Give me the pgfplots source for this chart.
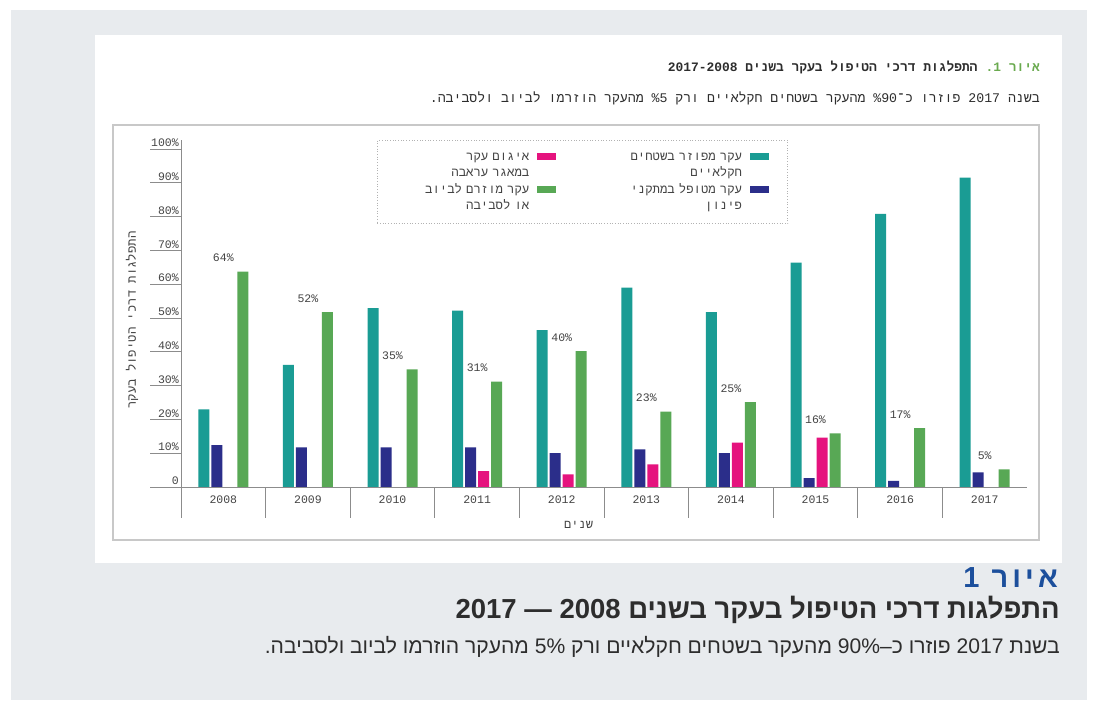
\documentclass[border=0pt]{standalone}
\usepackage{pgfplots}
\usepackage{pgfplotstable}
\pgfplotsset{compat=1.18}
\usepackage{fontspec}
\setmainfont{Liberation Sans}
\newfontfamily\hebmono[Script=Hebrew]{Liberation Mono}
\newfontfamily\hebsans[Script=Hebrew]{Liberation Sans}
\newfontfamily\hebsansls[Script=Hebrew,LetterSpace=14]{Liberation Sans}
\TeXXeTstate=1
\newcommand{\LL}[1]{\beginL#1\endL}

\definecolor{bgpanel}{HTML}{E8EBEE}
\definecolor{framegray}{HTML}{C8C8C8}
\definecolor{axisgray}{HTML}{8C8C8C}
\definecolor{cteal}{HTML}{1A9C94}
\definecolor{cnavy}{HTML}{2B2E8A}
\definecolor{cpink}{HTML}{E5137E}
\definecolor{cgreen}{HTML}{58A855}
\definecolor{ctext}{HTML}{444444}
\definecolor{ctitlegreen}{HTML}{6AAA4F}
\definecolor{cblue}{HTML}{1C4F9C}
\definecolor{ccap}{HTML}{2D2D2D}

% year teal navy pink green label
\pgfplotstableread{
x teal navy pink green lab
0 23.0 12.4 nan  63.7 64
1 36.1 11.7 nan  51.7 52
2 52.9 11.7 nan  34.8 35
3 52.2 11.7 4.7  31.2 31
4 46.4 10.0 3.75 40.2 40
5 59.0 11.1 6.7  22.3 23
6 51.7 10.0 13.1 25.1 25
7 66.4 2.6  14.6 15.9 16
8 80.8 1.8  nan  17.4 17
9 91.5 4.3  nan  5.2  5
}\datatable

\pgfplotsset{swatch/.style={legend image code/.code={\fill[#1] (0pt,-2.5pt) rectangle (18pt,3.5pt);}}}

\begin{document}
\begin{tikzpicture}
\useasboundingbox (0,0) rectangle (1094pt,706pt);
\fill[white] (0,0) rectangle (1094pt,706pt);
\fill[bgpanel] (11pt,6pt) rectangle (1087pt,696pt);
\fill[white] (95pt,143pt) rectangle (1062pt,671pt);
\draw[framegray, line width=1.2pt] (113pt,166pt) rectangle (1039pt,581pt);

% chart title inside the white panel
\node[anchor=east, inner sep=0pt, text=ctitlegreen, font=\hebmono\bfseries\fontsize{12.9}{15}\selectfont] (t1) at (1040pt,639pt) {\beginR איור \LL{1}.\endR};
\node[anchor=east, inner sep=0pt, text=ccap, font=\hebmono\bfseries\fontsize{12.9}{15}\selectfont] at ([xshift=-7.7pt]t1.west) {\beginR התפלגות דרכי הטיפול בעקר בשנים \LL{2017-2008}\endR};
\node[anchor=east, inner sep=0pt, text=ccap, font=\hebmono\fontsize{13.2}{15}\selectfont] at (1040pt,608pt) {\beginR בשנה \LL{2017} פוזרו כ־\LL{90}\% מהעקר בשטחים חקלאיים ורק \LL{5}\% מהעקר הוזרמו לביוב ולסביבה.\endR};

\begin{axis}[
  at={(181pt,219pt)}, anchor=south west, scale only axis,
  width=846pt, height=347pt,
  xmin=-0.5, xmax=9.5, ymin=0, ymax=102.66,
  axis lines*=left,
  axis line style={draw=axisgray, line width=0.8pt},
  tick align=outside, major tick length=31pt, minor tick length=31pt,
  tick style={draw=axisgray, line width=0.8pt},
  xtick={0,...,9},
  xticklabels={2008,2009,2010,2011,2012,2013,2014,2015,2016,2017},
  major x tick style={draw=none},
  minor xtick={-0.5,0.5,...,8.5},
  ytick={0,10,...,100},
  yticklabels={0,10\%,20\%,30\%,40\%,50\%,60\%,70\%,80\%,90\%,100\%},
  tick label style={font=\hebmono\fontsize{11.5}{13}\selectfont, text=ctext},
  yticklabel style={anchor=south east, inner sep=0pt, xshift=29pt, yshift=2pt},
  xticklabel style={anchor=center, inner sep=0pt, yshift=18pt},
  xlabel={\beginR שנים\endR},
  xlabel style={at={(axis description cs:0.47,0)}, anchor=center, yshift=-38pt, font=\hebmono\fontsize{12}{14}\selectfont, text=ctext},
  ylabel={\beginR התפלגות דרכי הטיפול בעקר\endR},
  ylabel style={at={(axis description cs:-0.058,0.481)}, anchor=center, font=\hebmono\fontsize{12.3}{14}\selectfont, text=ctext},
  legend style={at={(axis description cs:0.2317,1)}, anchor=north west,
    draw=gray!60, dotted, line width=0.7pt, fill=white,
    font=\hebmono\fontsize{12.3}{15}\selectfont, text=ctext,
    inner xsep=19pt, inner ysep=11pt,
    nodes={inner sep=0pt, text height=9pt, text depth=3pt, text width=133pt, align=right},
    /tikz/every odd column/.append style={column sep=8pt},
    /tikz/every even column/.append style={column sep=53pt},
    row sep=4.5pt},
  legend columns=2, legend cell align=right, legend plot pos=right,
]
\addplot[ybar, bar width=11pt, bar shift=-19.5pt, fill=cteal, draw=none, forget plot] table[x=x, y=teal] {\datatable};
\addplot[ybar, bar width=11pt, bar shift=-6.5pt, fill=cnavy, draw=none, forget plot] table[x=x, y=navy] {\datatable};
\addplot[ybar, bar width=11pt, bar shift=6.5pt, fill=cpink, draw=none, forget plot] table[x=x, y=pink] {\datatable};
\addplot[ybar, bar width=11pt, bar shift=19.5pt, fill=cgreen, draw=none, forget plot,
  point meta=explicit symbolic,
  nodes near coords={\pgfplotspointmeta\%},
  every node near coord/.append style={font=\hebmono\fontsize{11.5}{13}\selectfont, text=ctext, anchor=base, inner sep=0pt, yshift=10pt}]
  table[x=x, y=green, meta=lab] {\datatable};

% legend: one line per row, second lines carry no swatch
\addlegendimage{swatch=cpink}
\addlegendentry{\beginR איגום עקר\endR}
\addlegendimage{swatch=cteal}
\addlegendentry{\beginR עקר מפוזר בשטחים\endR}
\addlegendimage{empty legend}
\addlegendentry{\beginR במאגר עראבה\endR}
\addlegendimage{empty legend}
\addlegendentry{\beginR חקלאיים\endR}
\addlegendimage{swatch=cgreen}
\addlegendentry{\beginR עקר מוזרם לביוב\endR}
\addlegendimage{swatch=cnavy}
\addlegendentry{\beginR עקר מטופל במתקני\endR}
\addlegendimage{empty legend}
\addlegendentry{\beginR או לסביבה\endR}
\addlegendimage{empty legend}
\addlegendentry{\beginR פינון\endR}
\end{axis}

% caption below the white panel
\node[anchor=east, inner sep=0pt, text=cblue, font=\hebsansls\bfseries\fontsize{29}{32}\selectfont] at (1058pt,128pt) {\beginR איור \LL{1}\endR};
\node[anchor=east, inner sep=0pt, text=ccap, font=\hebsans\bfseries\fontsize{27.5}{30}\selectfont] at (1060pt,96pt) {\beginR התפלגות דרכי הטיפול בעקר בשנים \LL{2008} — \LL{2017}\endR};
\node[anchor=east, inner sep=0pt, text=ccap, font=\hebsans\fontsize{21.1}{24}\selectfont] at (1060pt,59pt) {\beginR בשנת \LL{2017} פוזרו כ–\LL{90\%} מהעקר בשטחים חקלאיים ורק \LL{5\%} מהעקר הוזרמו לביוב ולסביבה.\endR};
\end{tikzpicture}
\end{document}
